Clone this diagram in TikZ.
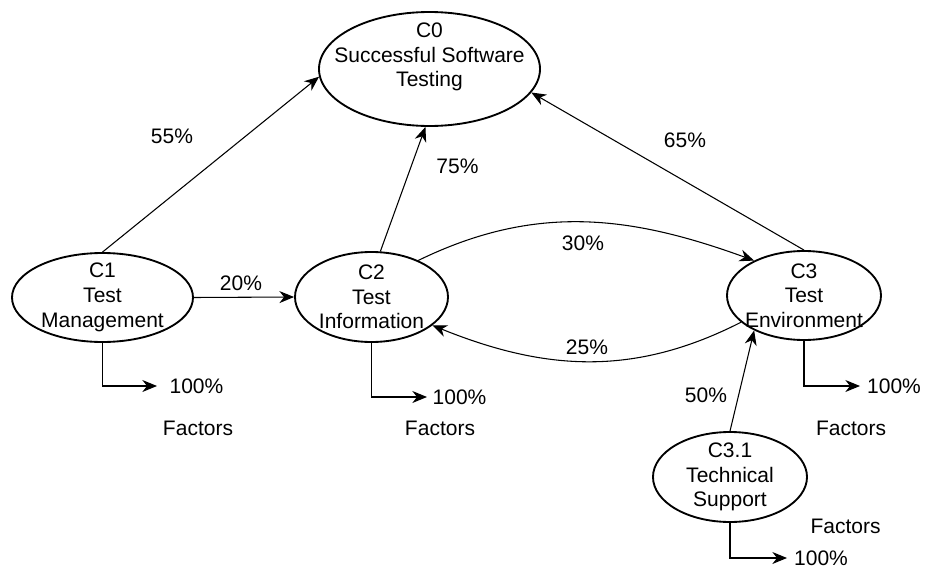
\documentclass[tikz,border=0pt]{standalone}
\usepackage{fontspec}
\setmainfont{Liberation Sans}
\usetikzlibrary{shapes.geometric, arrows.meta}

\begin{document}
\begin{tikzpicture}[
    x=0.75pt, y=-0.75pt,
    every node/.style={font=\fontsize{15.75}{18.5}\selectfont, align=center, inner sep=0pt},
    concept/.style={draw, ellipse, line width=1.4pt},
    link/.style={line width=0.8pt, -{Stealth[length=11pt, width=9pt, inset=3.5pt]}}
]
\useasboundingbox (0,0) rectangle (925,571);

% concepts
\node[concept, minimum width=165.75pt, minimum height=85.5pt,
      label={[yshift=9pt]center:C0\\Successful Software\\Testing}] (c0) at (429.5,69) {};
\node[concept, minimum width=135.75pt, minimum height=66.75pt,
      label={center:C1\\Test\\Management}] (c1) at (102.5,297.5) {};
\node[concept, minimum width=114.75pt, minimum height=67.5pt,
      label={center:C2\\Test\\Information}] (c2) at (371.5,297) {};
\node[concept, minimum width=115.5pt, minimum height=66.75pt,
      label={center:C3\\Test\\Environment}] (c3) at (804,295.5) {};
\node[concept, minimum width=115.5pt, minimum height=67.5pt,
      label={center:C3.1\\Technical\\Support}] (c31) at (730,477) {};

% weights
\node (w55) at (172,136) {55\%};
\node (w75) at (457.5,166) {75\%};
\node (w65) at (685,140) {65\%};
\node (w20) at (241,283) {20\%};
\node (w30) at (583,243) {30\%};
\node (w25) at (587,347) {25\%};
\node (w50) at (706,395) {50\%};

% relations
\draw[link] (c1.north) -- (c0.184);
\draw[link] (c2.79) -- (c0.266);
\draw[link] (c3.north) -- (c0.347);
\draw[link] (c1.east) -- (c2.west);
\draw[link] (c2.38) to[out=26, in=160] (c3.145);
\draw[link] (c3.203) to[out=207, in=338] (c2.335);
\draw[link] (c31.north) -- (c3.215);

% factors
\node (p1) at (196.5,386) {100\%};
\node (f1) at (198,428) {Factors};
\node (p2) at (459.5,397) {100\%};
\node (f2) at (440,428) {Factors};
\node (p3) at (894,386) {100\%};
\node (f3) at (851,428) {Factors};
\node (p31) at (821,558) {100\%};
\node (f31) at (845.5,526) {Factors};
\coordinate (t1) at (157,386);
\coordinate (t2) at (427,397);
\coordinate (t3) at (860,386);
\coordinate (t31) at (787,558);
\draw[link] (c1.south) |- (t1);
\draw[link] (c2.south) |- (t2);
\draw[link] (c3.south) |- (t3);
\draw[link] (c31.south) |- (t31);
\end{tikzpicture}
\end{document}
